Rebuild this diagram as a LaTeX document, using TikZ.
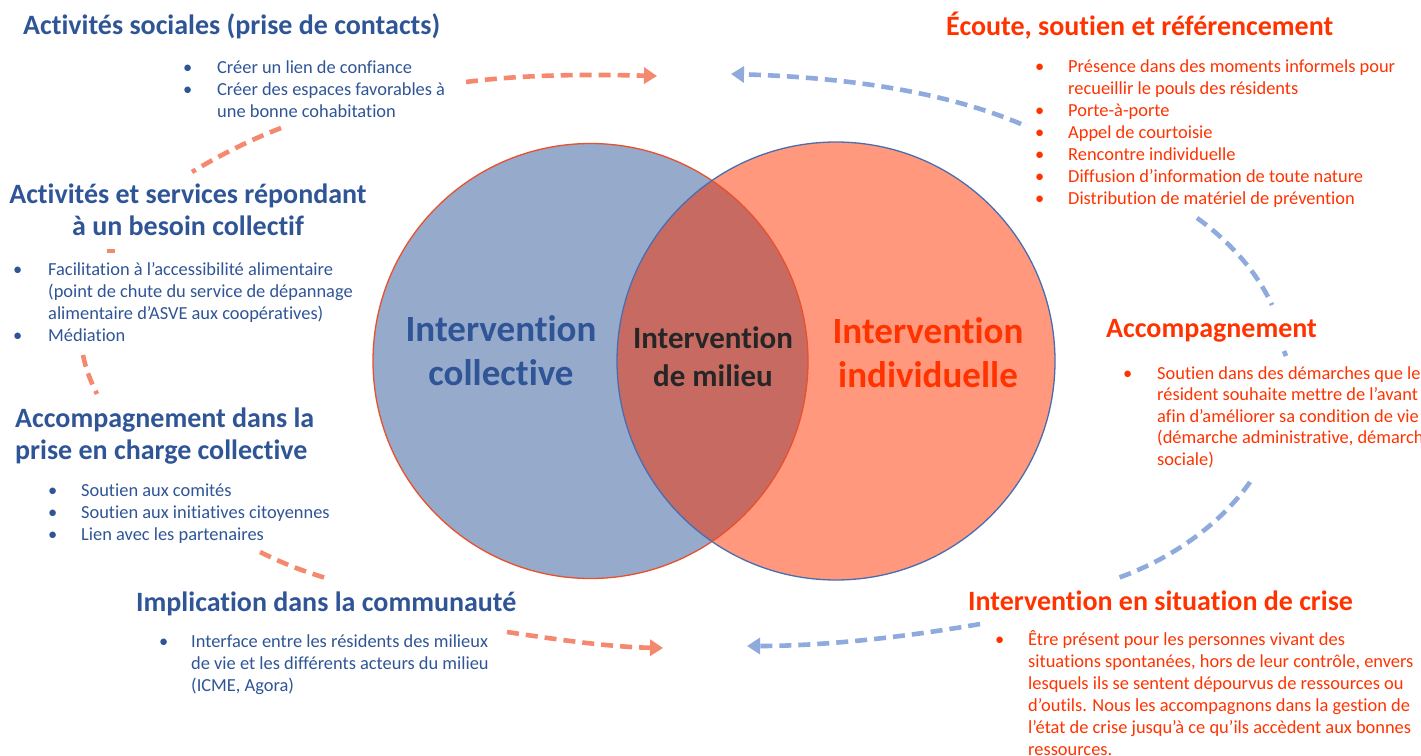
\documentclass[tikz,border=0pt]{standalone}
\usepackage{fontspec}
\setmainfont{Carlito}[Ligatures=NoCommon]
\usetikzlibrary{arrows.meta}
\definecolor{cblue}{HTML}{2F5597}
\definecolor{cred}{HTML}{FF3300}
\definecolor{cdark}{HTML}{262626}
\definecolor{fleft}{HTML}{96AACB}
\definecolor{fright}{HTML}{FF987C}
\definecolor{fmid}{HTML}{C76A62}
\definecolor{lorange}{HTML}{E8502E}
\definecolor{lblue}{HTML}{4A6DB0}
\definecolor{aorange}{HTML}{F4896F}
\definecolor{ablue}{HTML}{8FAADC}
\begin{document}
\begin{tikzpicture}[x=1pt,y=-1pt,
  ttl/.style={font=\fontsize{28}{32.5}\selectfont\bfseries, anchor=base west, inner sep=0pt},
  lst/.style={font=\fontsize{18.4}{22}\selectfont, anchor=base west, inner sep=0pt},
  bigl/.style={font=\fontsize{37}{44}\selectfont\bfseries, anchor=base, inner sep=0pt},
  dsh/.style={line width=4.6pt, dash pattern=on 12pt off 7pt},
  oarr/.style={dsh, draw=aorange},
  barr/.style={dsh, draw=ablue},
  tip/.style={-{Triangle[length=13pt,width=16pt]}}
]
\useasboundingbox (0,0) rectangle (1421,755);
\fill[white] (0,0) rectangle (1421,755);

% Venn circles
\coordinate (cl) at (590.5,361);
\coordinate (cr) at (836,361);
\fill[fleft] (cl) circle (217.5pt);
\fill[fright] (cr) circle (219pt);
\begin{scope}
  \clip (cl) circle (217.5pt);
  \fill[fmid] (cr) circle (219pt);
\end{scope}
\draw[lorange, line width=1.3pt] (cl) circle (217.5pt);
\draw[lblue, line width=1.3pt] (cr) circle (219pt);

\node[bigl, text=cblue] (lc) at (501,341) {\begin{tabular}[t]{@{}c@{}}Intervention\\collective\end{tabular}};
\node[bigl, text=cdark, font=\fontsize{31}{38}\selectfont\bfseries] (mc) at (713,348) {\begin{tabular}[t]{@{}c@{}}Intervention\\de milieu\end{tabular}};
\node[bigl, text=cred] (rc) at (928,343) {\begin{tabular}[t]{@{}c@{}}Intervention\\individuelle\end{tabular}};

% Left side (blue)
\node[ttl, text=cblue] (t1) at (23,34) {Activités sociales (prise de contacts)};
\node[lst, text=cblue] (l1) at (183,73) {\begin{tabular}[t]{@{}p{34pt}@{}l@{}}•&Créer un lien de confiance\\•&Créer des espaces favorables à\\&une bonne cohabitation\end{tabular}};

\node[ttl, text=cblue, anchor=base] (t2) at (188,203) {\begin{tabular}[t]{@{}c@{}}Activités et services répondant\\à un besoin collectif\end{tabular}};
\node[lst, text=cblue] (l2) at (13,275) {\begin{tabular}[t]{@{}p{35pt}@{}l@{}}•&Facilitation à l’accessibilité alimentaire\\&(point de chute du service de dépannage\\&alimentaire d’ASVE aux coopératives)\\•&Médiation\end{tabular}};

\node[ttl, text=cblue] (t3) at (15,427) {\begin{tabular}[t]{@{}l@{}}Accompagnement dans la\\prise en charge collective\end{tabular}};
\node[lst, text=cblue] (l3) at (48,496) {\begin{tabular}[t]{@{}p{33pt}@{}l@{}}•&Soutien aux comités\\•&Soutien aux initiatives citoyennes\\•&Lien avec les partenaires\end{tabular}};

\node[ttl, text=cblue] (t4) at (136,611) {Implication dans la communauté};
\node[lst, text=cblue] (l4) at (159,647) {\begin{tabular}[t]{@{}p{32pt}@{}l@{}}•&Interface entre les résidents des milieux\\&de vie et les différents acteurs du milieu\\&(ICME, Agora)\end{tabular}};

% Right side (red)
\node[ttl, text=cred] (t5) at (946,35) {Écoute, soutien et référencement};
\node[lst, text=cred] (l5) at (1035,72) {\begin{tabular}[t]{@{}p{33pt}@{}l@{}}•&Présence dans des moments informels pour\\&recueillir le pouls des résidents\\•&Porte-à-porte\\•&Appel de courtoisie\\•&Rencontre individuelle\\•&Diffusion d’information de toute nature\\•&Distribution de matériel de prévention\end{tabular}};

\node[ttl, text=cred] (t6) at (1106,337) {Accompagnement};
\node[lst, text=cred, font=\fontsize{18.4}{21.5}\selectfont] (l6) at (1123,379) {\begin{tabular}[t]{@{}p{34pt}@{}l@{}}•&Soutien dans des démarches que le\\&résident souhaite mettre de l’avant\\&afin d’améliorer sa condition de vie\\&(démarche administrative, démarche\\&sociale)\end{tabular}};

\node[ttl, text=cred] (t7) at (968,610) {Intervention en situation de crise};
\node[lst, text=cred] (l7) at (995,645) {\begin{tabular}[t]{@{}p{33pt}@{}l@{}}•&Être présent pour les personnes vivant des\\&situations spontanées, hors de leur contrôle, envers\\&lesquels ils se sentent dépourvus de ressources ou\\&d’outils. Nous les accompagnons dans la gestion de\\&l’état de crise jusqu’à ce qu’ils accèdent aux bonnes\\&ressources.\end{tabular}};

% Orange dashed arcs (left)
\coordinate (o1a) at (466,82);  \coordinate (o1b) at (657,76);
\coordinate (o2a) at (281,128); \coordinate (o2b) at (192,172);
\coordinate (o3a) at (107,251); \coordinate (o3b) at (115,251);
\coordinate (o4a) at (83,355);  \coordinate (o4b) at (97,394);
\coordinate (o5a) at (260,552); \coordinate (o5b) at (326,578);
\coordinate (o6a) at (507,632); \coordinate (o6b) at (663,648);
\draw[oarr, tip] (o1a) .. controls (520,75) and (580,74) .. (o1b);
\draw[oarr] (o2a) .. controls (250,140) and (220,155) .. (o2b);
\draw[aorange, line width=4.6pt] (o3a) -- (o3b);
\draw[oarr] (o4a) .. controls (86,370) and (91,382) .. (o4b);
\draw[oarr] (o5a) .. controls (280,562) and (302,571) .. (o5b);
\draw[oarr, tip] (o6a) .. controls (560,640) and (610,647) .. (o6b);

% Blue dashed arcs (right)
\coordinate (b1a) at (1021,124); \coordinate (b1b) at (731,74);
\coordinate (b2a) at (1197,218); \coordinate (b2b) at (1272,305);
\coordinate (b3a) at (1284,351); \coordinate (b3b) at (1286,356);
\coordinate (b4a) at (1250,482); \coordinate (b4b) at (1115,579);
\coordinate (b5a) at (980,624);  \coordinate (b5b) at (747,646);
\draw[barr, tip] (b1a) .. controls (960,98) and (870,78) .. (b1b);
\draw[barr] (b2a) .. controls (1225,238) and (1255,268) .. (b2b);
\draw[ablue, line width=4.6pt] (b3a) -- (b3b);
\draw[barr] (b4a) .. controls (1220,525) and (1170,560) .. (b4b);
\draw[barr, tip] (b5a) .. controls (900,638) and (820,646) .. (b5b);
\end{tikzpicture}
\end{document}
